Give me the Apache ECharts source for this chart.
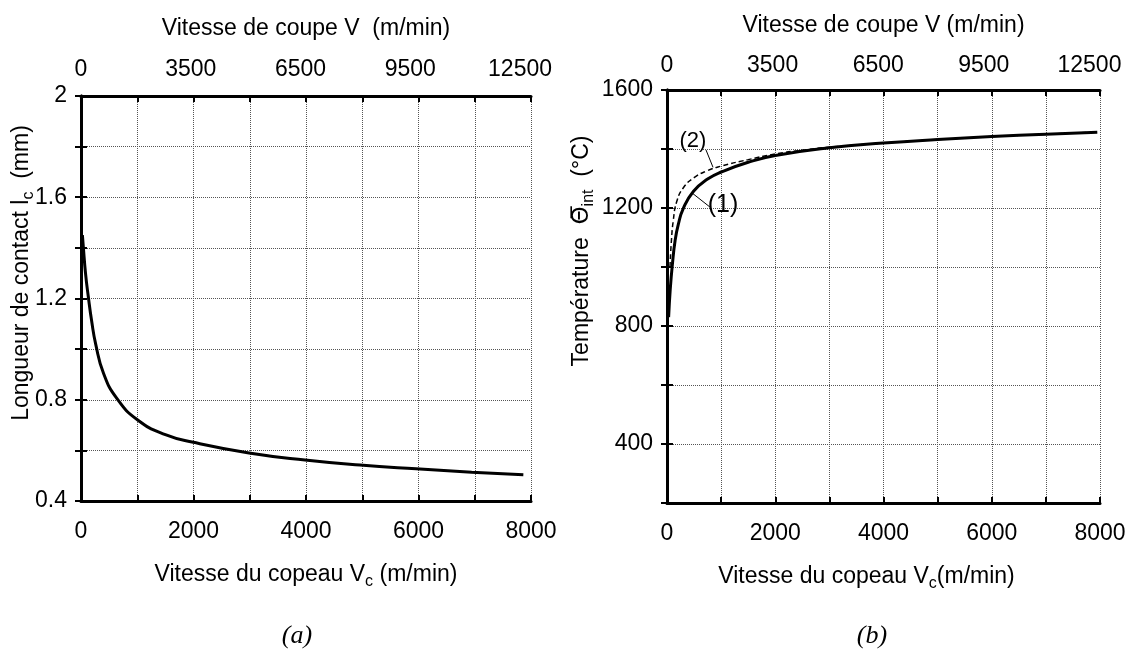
<!DOCTYPE html>
<html>
<head>
<meta charset="utf-8">
<script src="https://cdn.jsdelivr.net/npm/echarts@6/dist/echarts.min.js"></script>
<style>
  html, body { margin: 0; background: #fff; }
  #chart { width: 1134px; height: 663px; }
</style>
</head>
<body>
<div id="chart"></div>
<script>
// (a) longueur de contact en fonction de la vitesse du copeau
const vcA = [25, 41, 80, 130, 190, 261, 400, 634, 1008, 1500, 1997, 2987, 3982, 4960, 5956, 6945, 7864];
const lcA = [1.45, 1.405, 1.3, 1.207, 1.11, 1.02, 0.905, 0.806, 0.72, 0.662, 0.632, 0.59, 0.562, 0.542, 0.527, 0.514, 0.504];

// (b) temperature d'interface, courbes (1) et (2)
const vcB1 = [30, 60, 100, 150, 210, 300, 490, 750, 1000, 1500, 2000, 3000, 4000, 5000, 6000, 7000, 7950];
const tB1 = [830, 925, 1010, 1090, 1145, 1198, 1257, 1298, 1322, 1355, 1378, 1404, 1420, 1432, 1442, 1450, 1457];
const vcB2 = [55, 80, 117, 180, 300, 500, 750, 1000, 1500, 2000, 2500, 3000, 4000, 5000, 6000, 7000, 7950];
const tB2 = [1000, 1085, 1159, 1222, 1268, 1303, 1327, 1342, 1364, 1383, 1396, 1406, 1420, 1432, 1442, 1450, 1457];

// tick labels
const bottomTicks = [0, 2000, 4000, 6000, 8000];
const topTicks = ['0', '3500', '6500', '9500', '12500'];
const yTicksA = [0.4, 0.8, 1.2, 1.6, 2];
const yTicksB = [400, 800, 1200, 1600];

const black = '#000';
const font = '"Liberation Sans", Arial, sans-serif';

const frame = { show: true, lineStyle: { color: black, width: 3 } };
const tickIn = { show: true, inside: true, length: 6, lineStyle: { color: black, width: 2 } };
const dotted = { show: true, lineStyle: { color: '#555', width: 1, type: 'dotted' } };
const txt = { color: black, fontSize: 23, fontFamily: font };
const subRich = { sub: { color: black, fontSize: 16, fontFamily: font, verticalAlign: 'bottom', lineHeight: 16 } };
const subGraphic = {
    sub: { fill: black, fontSize: 16, fontFamily: font, verticalAlign: 'bottom', lineHeight: 16 },
    th: { fill: black, fontSize: 23, fontFamily: '"DejaVu Sans", sans-serif' }
};

function bottomAxis(g, name, pad) {
    return {
        type: 'value', gridIndex: g, position: 'bottom', min: 0, max: 8000, interval: 1000,
        axisLine: frame, axisTick: tickIn, splitLine: dotted,
        axisLabel: { ...txt, margin: 19, formatter: v => bottomTicks.includes(v) ? String(v) : '' },
        name: name, nameLocation: 'middle', nameGap: 59,
        nameTextStyle: { ...txt, lineHeight: 30, padding: pad, rich: subRich }
    };
}

function topTickAxis(g) {
    return {
        type: 'value', gridIndex: g, position: 'top', min: 0, max: 8000, interval: 1000,
        axisLine: frame, axisTick: tickIn, axisLabel: { show: false }, splitLine: { show: false }
    };
}

function topLabelAxis(g, name, gap, margin) {
    return {
        type: 'value', gridIndex: g, position: 'top', min: 0, max: 4.1, interval: 1,
        axisLine: { show: false }, axisTick: { show: false }, splitLine: { show: false },
        axisLabel: { ...txt, margin: margin, formatter: v => topTicks[v] || '' },
        name: name, nameLocation: 'middle', nameGap: gap, nameTextStyle: txt
    };
}

function leftAxis(g, min, max, step, ticks) {
    return {
        type: 'value', gridIndex: g, position: 'left', min: min, max: max, interval: step,
        axisLine: frame, axisTick: tickIn, splitLine: dotted,
        axisLabel: {
            ...txt, margin: 14,
            formatter: v => {
                const t = ticks.find(t => Math.abs(t - v) < 1e-6);
                return t === undefined ? '' : String(t);
            }
        }
    };
}

function rightAxis(g, min, max, step) {
    return {
        type: 'value', gridIndex: g, position: 'right', min: min, max: max, interval: step,
        axisLine: frame, axisTick: tickIn, axisLabel: { show: false }, splitLine: { show: false }
    };
}

const pairs = (xs, ys) => xs.map((x, i) => [x, ys[i]]);

const chart = echarts.init(document.getElementById('chart'));

chart.setOption({
    animation: false,
    backgroundColor: '#fff',
    grid: [
        { left: 81, top: 96, width: 450, height: 405 },
        { left: 667, top: 90, width: 433, height: 413 }
    ],
    xAxis: [
        bottomAxis(0, 'Vitesse du copeau V{sub|c} (m/min)', [0, 0, 0, 0]),
        topTickAxis(0),
        topLabelAxis(0, 'Vitesse de coupe V  (m/min)', 56, 15),
        bottomAxis(1, 'Vitesse du copeau V{sub|c}(m/min)', [0, 34, 0, 0]),
        topTickAxis(1),
        topLabelAxis(1, 'Vitesse de coupe V (m/min)', 53, 13)
    ],
    yAxis: [
        leftAxis(0, 0.4, 2, 0.2, yTicksA),
        rightAxis(0, 0.4, 2, 0.2),
        leftAxis(1, 200, 1600, 200, yTicksB),
        rightAxis(1, 200, 1600, 200)
    ],
    series: [
        {
            type: 'line', xAxisIndex: 0, yAxisIndex: 0,
            data: pairs(vcA, lcA), symbol: 'none', smooth: true,
            lineStyle: { color: black, width: 3 }
        },
        {
            type: 'line', xAxisIndex: 3, yAxisIndex: 2, name: '(2)',
            data: pairs(vcB2, tB2), symbol: 'none', smooth: true,
            lineStyle: { color: black, width: 1.5, type: [5, 3] },
            markLine: {
                silent: true, symbol: ['none', 'none'], label: { show: false },
                lineStyle: { color: black, width: 1, type: 'solid' },
                data: [
                    [{ coord: [720, 1397] }, { coord: [850, 1338] }],
                    [{ coord: [470, 1250] }, { coord: [795, 1203] }]
                ]
            },
            markPoint: {
                symbol: 'circle', symbolSize: 1, itemStyle: { color: 'rgba(0,0,0,0)' },
                label: { show: true, position: 'inside', color: black, fontFamily: font, fontSize: 22, formatter: p => p.name },
                data: [
                    { name: '(2)', coord: [480, 1427] },
                    { name: '(1)', coord: [1035, 1210], label: { fontSize: 25 } }
                ]
            }
        },
        {
            type: 'line', xAxisIndex: 3, yAxisIndex: 2, name: '(1)',
            data: pairs(vcB1, tB1), symbol: 'none', smooth: true,
            lineStyle: { color: black, width: 3 }
        }
    ],
    graphic: [
        {
            type: 'text', x: 22, y: 273, rotation: Math.PI / 2,
            style: {
                text: 'Longueur de contact l{sub|c}  (mm)', fill: black, fontSize: 23, fontFamily: font,
                align: 'center', verticalAlign: 'middle', lineHeight: 30, rich: subGraphic
            }
        },
        {
            type: 'text', x: 582, y: 251, rotation: Math.PI / 2,
            style: {
                text: 'Température  {th|\u0398\u0305}{sub|int}  (°C)', fill: black, fontSize: 23, fontFamily: font,
                align: 'center', verticalAlign: 'middle', lineHeight: 30, rich: subGraphic
            }
        },
        {
            type: 'text', x: 297, y: 636,
            style: { text: '(a)', fill: black, font: 'italic 26px "Liberation Serif", serif', align: 'center', verticalAlign: 'middle' }
        },
        {
            type: 'text', x: 872, y: 636,
            style: { text: '(b)', fill: black, font: 'italic 26px "Liberation Serif", serif', align: 'center', verticalAlign: 'middle' }
        }
    ]
});
</script>
</body>
</html>
